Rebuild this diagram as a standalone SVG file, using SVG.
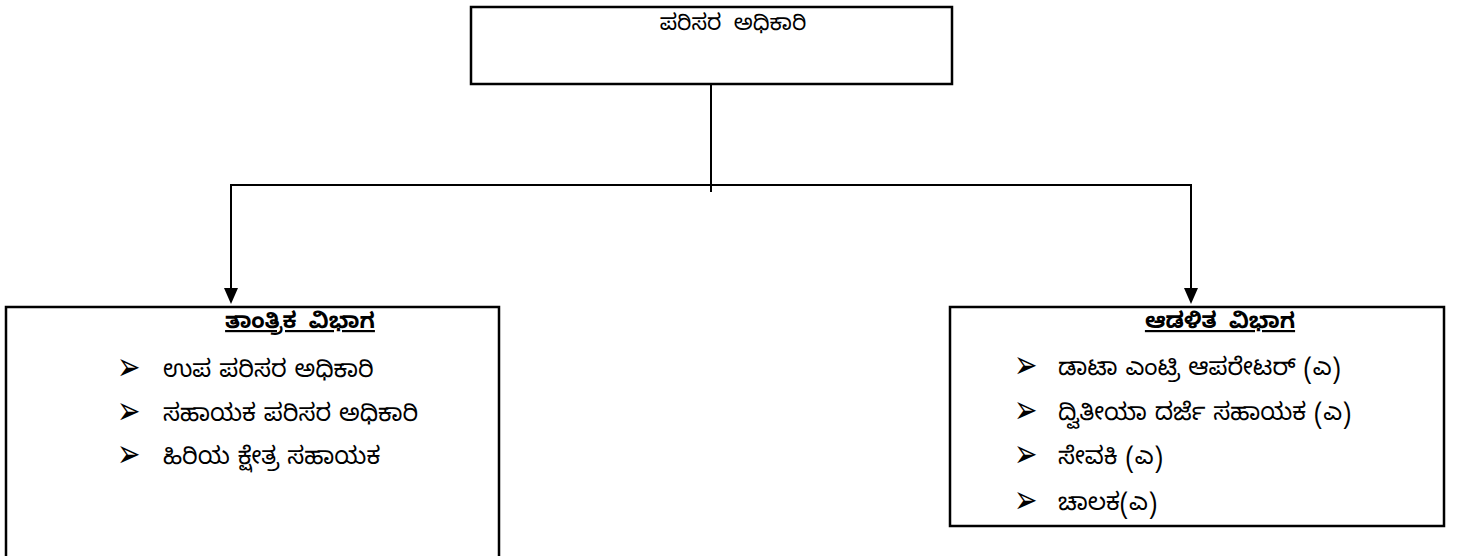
<svg xmlns="http://www.w3.org/2000/svg" width="1460" height="556" viewBox="0 0 1460 556">
  <style>
    .box { fill: #ffffff; stroke: #000000; stroke-width: 2.5; }
    .line { fill: none; stroke: #000000; stroke-width: 2; }
    .head { fill: #000000; stroke: none; }
    .t { font-family: "Noto Sans Kannada", "Noto Sans", "DejaVu Sans", sans-serif; font-size: 24px; word-spacing: 1px; fill: #000000; }
    .title { font-weight: bold; text-decoration: underline; font-size: 22px; word-spacing: 6px; }
    .top { font-size: 22px; word-spacing: 6px; }
    .bul { font-family: "DejaVu Sans", sans-serif; font-size: 28px; fill: #000000; }
  </style>
  <rect width="1460" height="556" fill="#ffffff"/>

  <g id="connectors">
    <line class="line" x1="711" y1="84" x2="711" y2="192"/>
    <line class="line" x1="230" y1="185" x2="1192" y2="185"/>
    <line class="line" x1="231" y1="185" x2="231" y2="290"/>
    <polygon class="head" points="224,288 238,288 231,304"/>
    <line class="line" x1="1191" y1="185" x2="1191" y2="290"/>
    <polygon class="head" points="1184,288 1198,288 1191,304"/>
  </g>

  <g id="node-top">
    <rect class="box" x="471" y="7" width="481" height="77"/>
    <text class="t top" x="733" y="30" text-anchor="middle">ಪರಿಸರ ಅಧಿಕಾರಿ</text>
  </g>

  <g id="node-technical">
    <path class="box" d="M6,560 V307 H499 V560"/>
    <text class="t title" x="300" y="328" text-anchor="middle">ತಾಂತ್ರಿಕ ವಿಭಾಗ</text>
    <text class="bul" transform="translate(117,380) scale(1,1.4)">➢</text>
    <text class="t" x="163" y="377">ಉಪ ಪರಿಸರ ಅಧಿಕಾರಿ</text>
    <text class="bul" transform="translate(117,424) scale(1,1.4)">➢</text>
    <text class="t" x="163" y="421">ಸಹಾಯಕ ಪರಿಸರ ಅಧಿಕಾರಿ</text>
    <text class="bul" transform="translate(117,467) scale(1,1.4)">➢</text>
    <text class="t" x="163" y="464">ಹಿರಿಯ ಕ್ಷೇತ್ರ ಸಹಾಯಕ</text>
  </g>

  <g id="node-admin">
    <rect class="box" x="950" y="307" width="494" height="219"/>
    <text class="t title" x="1220" y="328" text-anchor="middle">ಆಡಳಿತ ವಿಭಾಗ</text>
    <text class="bul" transform="translate(1014,378) scale(1,1.4)">➢</text>
    <text class="t" x="1058" y="375">ಡಾಟಾ ಎಂಟ್ರಿ ಆಪರೇಟರ್ (ಎ)</text>
    <text class="bul" transform="translate(1014,423) scale(1,1.4)">➢</text>
    <text class="t" x="1058" y="420">ದ್ವಿತೀಯಾ ದರ್ಜೆ ಸಹಾಯಕ (ಎ)</text>
    <text class="bul" transform="translate(1014,467) scale(1,1.4)">➢</text>
    <text class="t" x="1058" y="464">ಸೇವಕಿ (ಎ)</text>
    <text class="bul" transform="translate(1014,513) scale(1,1.4)">➢</text>
    <text class="t" x="1058" y="510">ಚಾಲಕ(ಎ)</text>
  </g>
</svg>
